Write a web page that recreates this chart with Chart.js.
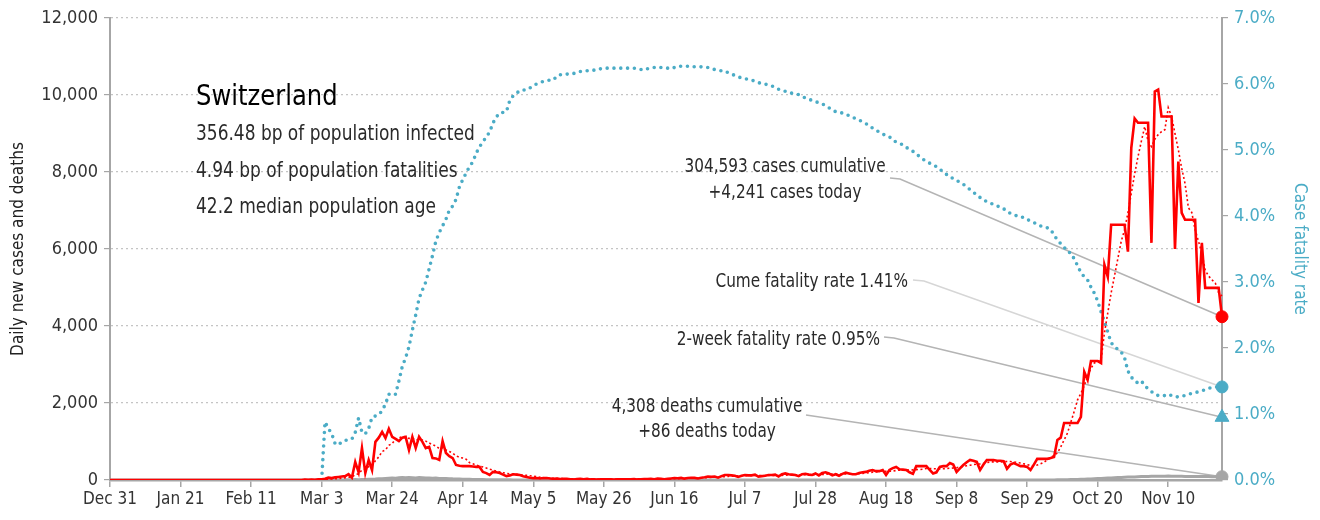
<!DOCTYPE html>
<html>
<head>
<meta charset="utf-8">
<script src="https://cdn.jsdelivr.net/npm/chart.js@4.4.1/dist/chart.umd.min.js"></script>
<style>
  body { margin: 0; background: #fff; }
  #wrap { width: 1320px; height: 520px; position: relative; }
</style>
</head>
<body>
<div id="wrap"><canvas id="chart"></canvas></div>
<script>
// tick labels shown every 21 days
var tickLabels = ['Dec 31','Jan 21','Feb 11','Mar 3','Mar 24','Apr 14','May 5','May 26','Jun 16','Jul 7','Jul 28','Aug 18','Sep 8','Sep 29','Oct 20','Nov 10'];

// daily new cases (index 0 = Dec 31)
var cases = [
  0,0,0,0,0,0,0,0,0,0, 0,0,0,0,0,0,0,0,0,0, 0,0,0,0,0,0,0,0,0,0,
  0,0,0,0,0,0,0,0,0,0, 0,0,0,0,0,0,0,0,0,0,
  0,0,0,0,0,0,1,0,10,5,
  10,6,18,20,30,60,50,70,80,90,
  100,150,60,470,200,830,180,520,260,990,
  1100,1250,1090,1330,1120,1070,1010,1100,1120,780,
  1120,830,1120,990,830,860,570,560,520,1010,
  700,620,570,390,370,360,360,360,350,340,
  340,210,180,130,210,200,180,140,100,120,
  150,140,130,100,80,60,50,50,40,50,
  50,40,30,35,25,30,30,20,15,25,
  30,20,30,15,20,10,20,15,15,20,
  10,15,20,15,15,20,25,15,20,25,
  25,30,20,35,30,20,30,40,50,45,
  55,35,50,60,55,40,60,70,90,85,
  90,60,100,130,130,120,110,80,110,130,
  120,120,140,90,100,110,130,130,140,90,
  150,170,150,140,130,100,150,160,140,130,
  170,120,180,200,170,120,150,110,160,190,
  170,150,150,180,200,210,240,260,230,230,
  260,130,260,310,340,280,270,260,200,160,
  360,360,360,360,260,170,200,340,360,360,
  440,400,210,300,390,460,520,500,470,260,
  400,520,520,520,500,500,490,290,400,440,
  400,360,360,340,260,400,550,550,550,550,
  570,600,1040,1100,1480,1480,1480,1480,1480,1640,
  2810,2600,3090,3090,3090,3040,5590,5280,6630,6630,
  6630,6630,6630,5930,8630,9390,9280,9280,9280,9280,
  6160,10090,10140,9440,9440,9440,9440,6000,8270,6940,
  6760,6760,6760,6760,4600,6160,4990,4990,4990,4990,
  4990,4241
];

// 7-day average of new cases
var casesAvg = [
  0,0,0,0,0,0,0,0,0,0, 0,0,0,0,0,0,0,0,0,0, 0,0,0,0,0,0,0,0,0,0,
  0,0,0,0,0,0,0,0,0,0, 0,0,0,0,0,0,0,0,0,0,
  0,0,0,0,0,0,0,0,2,3,
  5,6,9,12,15,20,25,32,40,48,
  58,70,80,140,160,260,280,350,380,500,
  600,740,780,900,950,1060,1090,1130,1120,1080,
  1080,1040,1050,1040,1010,960,920,880,820,840,
  780,740,700,630,590,570,540,450,420,390,
  360,340,310,280,260,230,210,190,170,160,
  150,145,140,130,120,110,100,85,70,60,
  55,50,45,42,38,35,32,30,28,27,
  25,24,24,23,22,20,19,18,17,17,
  16,16,16,16,16,17,18,18,19,20,
  21,23,24,26,27,27,28,30,33,36,
  40,41,44,48,50,49,52,56,64,69,
  74,74,79,88,94,98,103,107,111,112,
  115,117,118,115,113,116,118,117,117,116,
  120,126,129,133,134,136,138,137,138,139,
  143,138,142,150,156,156,155,150,155,157,
  155,155,156,164,170,177,190,204,212,224,
  236,223,226,236,245,256,262,265,255,262,
  270,273,280,300,300,292,291,288,292,300,
  305,312,320,336,352,370,385,400,410,417,
  430,450,470,470,470,470,475,480,480,470,
  460,440,420,400,380,370,390,420,460,520,
  580,640,700,860,1040,1220,1500,1780,2080,2250,
  2450,2700,2900,3040,3080,3120,3820,4340,4860,5300,
  5750,6200,6500,6940,7450,7950,8400,8800,9180,8800,
  8660,8850,8970,9050,9100,9670,9440,9000,8580,8100,
  7700,7070,6950,6500,6200,5900,5450,5300,5200,5120,
  4860,4780
];

// daily deaths
var deaths = [
  0,0,0,0,0,0,0,0,0,0, 0,0,0,0,0,0,0,0,0,0, 0,0,0,0,0,0,0,0,0,0,
  0,0,0,0,0,0,0,0,0,0, 0,0,0,0,0,0,0,0,0,0, 0,0,0,0,0,0,0,0,0,0,
  0,0,0,0,0,1,1,2,3,3,
  5,4,7,10,8,14,12,17,20,25,
  32,30,40,45,50,48,56,62,58,66,
  60,55,63,60,52,55,45,50,42,40,
  38,35,30,28,25,22,20,18,15,12,
  12,10,9,8,7,6,6,5,4,4,
  3,3,2,2,2,1,1,1,1,1,
  1,0,1,1,0,1,0,0,1,0, 0,1,0,0,0,1,0,0,0,0,
  0,0,0,1,0,0,0,0,1,0, 0,0,1,0,0,0,0,0,0,1,
  0,0,1,0,0,1,0,0,0,1, 0,1,0,0,1,0,1,0,0,1,
  1,0,1,0,1,2,0,1,0,1, 2,1,0,1,2,1,0,2,1,1,
  2,1,0,2,1,2,1,0,2,2, 1,2,1,3,2,1,2,2,1,2,
  1,2,1,2,2,1,2,3,2,2,
  2,1,2,3,2,2,3,2,1,2,
  3,2,2,3,2,3,2,2,3,1,
  2,3,2,3,3,2,3,2,3,3,
  2,3,3,2,3,3,2,3,3,2,
  2,3,4,5,6,8,10,12,14,17,
  20,24,28,32,36,40,45,50,54,58,
  62,66,70,75,78,80,85,88,90,92,
  95,97,100,98,100,102,100,98,96,95,
  94,92,92,90,88,90,88,88,87,86,
  86,86
];

// case fatality rate, percent
var cfr = [
  null,null,null,null,null,null,null,null,null,null, null,null,null,null,null,null,null,null,null,null,
  null,null,null,null,null,null,null,null,null,null, null,null,null,null,null,null,null,null,null,null,
  null,null,null,null,null,null,null,null,null,null, null,null,null,null,null,null,null,null,null,null,
  null,null,null,0,
  0.88,0.78,0.70,0.55,0.53,0.58,
  0.60,0.61,0.62,0.72,0.94,0.72,0.70,0.78,0.95,0.97,
  0.99,1.05,1.15,1.30,1.28,1.30,1.50,1.72,1.85,2.02,
  2.27,2.50,2.75,2.88,3.00,3.20,3.40,3.62,3.75,3.85,
  3.95,4.09,4.15,4.25,4.44,4.55,4.65,4.75,4.82,4.95,
  5.05,5.12,5.20,5.27,5.41,5.50,5.56,5.57,5.58,5.75,
  5.82,5.86,5.90,5.91,5.91,5.94,5.98,6.00,6.02,6.04,
  6.05,6.06,6.06,6.12,6.14,6.15,6.15,6.15,6.16,6.17,
  6.19,6.20,6.20,6.20,6.21,6.21,6.23,6.24,6.24,6.24,
  6.24,6.24,6.24,6.24,6.24,6.24,6.24,6.23,6.22,6.21,
  6.23,6.24,6.25,6.26,6.25,6.24,6.24,6.23,6.25,6.27,
  6.27,6.27,6.27,6.27,6.26,6.26,6.26,6.26,6.25,6.23,
  6.22,6.21,6.20,6.20,6.17,6.15,6.13,6.11,6.09,6.08,
  6.07,6.06,6.04,6.02,6.01,6.00,5.98,5.97,5.95,5.92,
  5.90,5.89,5.87,5.86,5.85,5.84,5.81,5.79,5.77,5.75,
  5.73,5.72,5.70,5.67,5.64,5.61,5.58,5.57,5.56,5.54,
  5.52,5.50,5.47,5.45,5.43,5.40,5.37,5.33,5.30,5.27,
  5.24,5.22,5.20,5.15,5.12,5.10,5.08,5.04,5.01,4.98,
  4.94,4.90,4.86,4.83,4.80,4.77,4.75,4.71,4.67,4.63,
  4.59,4.57,4.54,4.51,4.48,4.44,4.40,4.36,4.32,4.28,
  4.24,4.22,4.20,4.17,4.15,4.14,4.11,4.07,4.04,4.02,
  4.00,3.98,3.98,3.95,3.92,3.90,3.88,3.85,3.83,3.82,
  3.80,3.71,3.64,3.58,3.53,3.46,3.44,3.35,3.25,3.14,
  3.08,3.03,2.92,2.83,2.71,2.55,2.40,2.24,2.08,2.02,
  1.98,1.94,1.85,1.65,1.56,1.50,1.47,1.50,1.43,1.38,
  1.34,1.30,1.28,1.27,1.28,1.30,1.28,1.26,1.26,1.27,
  1.28,1.30,1.31,1.32,1.34,1.35,1.37,1.39,1.40,1.41,
  1.41,1.41
];

// latest values, shown as end markers
var casesToday = 4241;
var cumeCfr = 1.41;
var twoWeekCfr = 0.95;
var deathsToday = 86;

// day labels starting Dec 31
var monthNames = ['Jan','Feb','Mar','Apr','May','Jun','Jul','Aug','Sep','Oct','Nov','Dec'];
var days = [];
for (var i = 0; i < cases.length; i++) {
  var dt = new Date(2019, 11, 31 + i);
  days.push(monthNames[dt.getMonth()] + ' ' + dt.getDate());
}
var lastDay = days[days.length - 1];

var FONT = '"DejaVu Sans Condensed", "Liberation Sans Narrow", sans-serif';
var BLUE = '#4bacc6';
var AXIS = '#a6a6a6';

// narrow text: the reference uses a condensed face, squeeze it a bit
function narrowText(ctx, text, x, y, font, sx, align) {
  ctx.save();
  ctx.font = font;
  ctx.textAlign = align;
  ctx.textBaseline = 'middle';
  ctx.translate(x, y);
  ctx.scale(sx, 1);
  ctx.fillText(text, 0, 0);
  ctx.restore();
}

var notes = {
  id: 'notes',
  beforeDatasetsDraw: function(chart) {
    var ctx = chart.ctx;
    var x = chart.scales.x.getPixelForValue(days.length - 1);
    var yL = chart.scales.y, yR = chart.scales.y2;
    var leaders = [
      [[890, 178], [900, 179], [x, yL.getPixelForValue(casesToday)], '#b4b4b4'],
      [[913, 280], [924, 281], [x, yR.getPixelForValue(cumeCfr)], '#d6d6d6'],
      [[884, 337], [894, 338], [x, yR.getPixelForValue(twoWeekCfr)], '#b4b4b4'],
      [[806, 415], [806, 415], [x, yL.getPixelForValue(deathsToday)], '#b4b4b4']
    ];
    ctx.save();
    ctx.lineWidth = 1.6;
    leaders.forEach(function(l) {
      ctx.strokeStyle = l[3];
      ctx.beginPath();
      ctx.moveTo(l[0][0], l[0][1]);
      ctx.lineTo(l[1][0], l[1][1]);
      ctx.lineTo(l[2][0], l[2][1]);
      ctx.stroke();
    });
    ctx.restore();
  },
  afterDraw: function(chart) {
    var ctx = chart.ctx;
    ctx.save();
    ctx.fillStyle = '#000';
    narrowText(ctx, 'Switzerland', 196, 97, '29px ' + FONT, 0.93, 'left');
    ctx.fillStyle = '#2a2a2a';
    var body = '21px ' + FONT;
    narrowText(ctx, '356.48 bp of population infected', 196, 135, body, 0.9, 'left');
    narrowText(ctx, '4.94 bp of population fatalities', 196, 172, body, 0.9, 'left');
    narrowText(ctx, '42.2 median population age', 196, 208, body, 0.9, 'left');

    var note = '20px ' + FONT;
    narrowText(ctx, '304,593 cases cumulative', 785, 167, note, 0.85, 'center');
    narrowText(ctx, '+4,241 cases today', 785, 193, note, 0.85, 'center');
    narrowText(ctx, '4,308 deaths cumulative', 707, 407, note, 0.85, 'center');
    narrowText(ctx, '+86 deaths today', 707, 432, note, 0.85, 'center');
    narrowText(ctx, 'Cume fatality rate 1.41%', 908, 282, note, 0.85, 'right');
    narrowText(ctx, '2-week fatality rate 0.95%', 880, 340, note, 0.85, 'right');
    ctx.restore();
  }
};

new Chart(document.getElementById('chart'), {
  type: 'line',
  data: {
    labels: days,
    datasets: [
      {
        label: 'Cases today',
        data: [{ x: lastDay, y: casesToday }],
        yAxisID: 'y',
        showLine: false,
        pointRadius: 6,
        pointBackgroundColor: '#ff0000',
        pointBorderColor: '#ff0000',
        order: 0
      },
      {
        label: 'Cume fatality rate',
        data: [{ x: lastDay, y: cumeCfr }],
        yAxisID: 'y2',
        showLine: false,
        pointRadius: 6,
        pointBackgroundColor: BLUE,
        pointBorderColor: BLUE,
        order: 0
      },
      {
        label: '2-week fatality rate',
        data: [{ x: lastDay, y: twoWeekCfr }],
        yAxisID: 'y2',
        showLine: false,
        pointStyle: 'triangle',
        pointRadius: 8,
        pointBackgroundColor: BLUE,
        pointBorderColor: BLUE,
        order: 0
      },
      {
        label: 'Deaths today',
        data: [{ x: lastDay, y: deathsToday }],
        yAxisID: 'y',
        showLine: false,
        pointRadius: 6,
        pointBackgroundColor: AXIS,
        pointBorderColor: AXIS,
        order: 0
      },
      {
        label: 'New cases',
        data: cases,
        yAxisID: 'y',
        borderColor: '#ff0000',
        borderWidth: 2.6,
        pointRadius: 0,
        tension: 0,
        order: 1
      },
      {
        label: 'New cases 7-day avg',
        data: casesAvg,
        yAxisID: 'y',
        borderColor: '#ff0000',
        borderWidth: 1.6,
        borderDash: [2, 2.5],
        pointRadius: 0,
        tension: 0,
        order: 2
      },
      {
        label: 'Deaths',
        data: deaths,
        yAxisID: 'y',
        borderColor: AXIS,
        borderWidth: 3,
        pointRadius: 0,
        tension: 0,
        order: 3
      },
      {
        label: 'Case fatality rate',
        data: cfr,
        yAxisID: 'y2',
        borderColor: BLUE,
        borderWidth: 3.6,
        borderDash: [0, 6.8],
        borderCapStyle: 'round',
        pointRadius: 0,
        tension: 0,
        order: 4
      }
    ]
  },
  options: {
    responsive: true,
    maintainAspectRatio: false,
    animation: false,
    layout: { padding: { top: 18, left: 4, right: 10 } },
    plugins: {
      legend: { display: false },
      tooltip: { enabled: false }
    },
    scales: {
      x: {
        type: 'category',
        offset: false,
        afterFit: function(s) { s.height = 40; },
        grid: { drawOnChartArea: false, color: AXIS, tickLength: 7, lineWidth: 1.5 },
        border: { color: AXIS, width: 2.5 },
        ticks: {
          autoSkip: false,
          maxRotation: 0,
          color: '#333',
          padding: 2,
          font: { family: FONT, size: 17 },
          callback: function(v, i) {
            return i % 21 === 0 ? tickLabels[i / 21] : null;
          }
        }
      },
      y: {
        position: 'left',
        min: 0,
        max: 12000,
        afterFit: function(s) { s.width = 106; },
        ticks: {
          stepSize: 2000,
          color: '#333',
          padding: 6,
          font: { family: FONT, size: 18 },
          callback: function(v) { return v.toLocaleString('en-US'); }
        },
        grid: { color: '#c4c4c4', tickColor: AXIS, tickLength: 6, lineWidth: 1.2, tickBorderDash: [] },
        border: { color: AXIS, width: 2, dash: [2, 3] },
        title: {
          display: true,
          text: 'Daily new cases and deaths',
          color: '#222',
          font: { family: FONT, size: 17 },
          padding: { bottom: 0 }
        }
      },
      y2: {
        position: 'right',
        min: 0,
        max: 7,
        afterFit: function(s) { s.width = 88; },
        ticks: {
          stepSize: 1,
          color: BLUE,
          padding: 6,
          font: { family: FONT, size: 18 },
          callback: function(v) { return v.toFixed(1) + '%'; }
        },
        grid: { drawOnChartArea: false, color: AXIS, tickLength: 6, lineWidth: 1.2 },
        border: { color: AXIS, width: 2 },
        title: {
          display: true,
          text: 'Case fatality rate',
          color: BLUE,
          font: { family: FONT, size: 17 },
          padding: { top: 0 }
        }
      }
    }
  },
  plugins: [notes]
});
</script>
</body>
</html>
